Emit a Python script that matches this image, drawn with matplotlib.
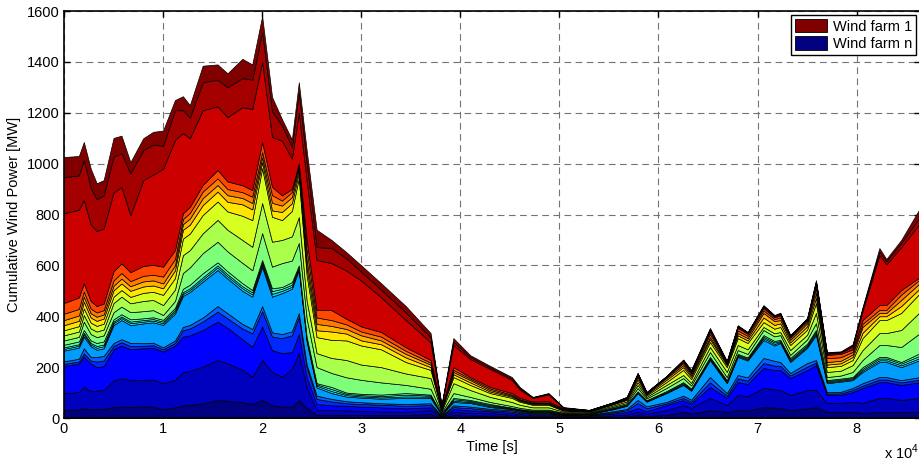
import matplotlib
matplotlib.use("Agg")
import matplotlib.pyplot as plt
import numpy as np
from matplotlib.patches import Patch

plt.rcParams["font.family"] = ["Liberation Sans", "DejaVu Sans"]
plt.rcParams["mathtext.fontset"] = "custom"
plt.rcParams["mathtext.rm"] = "Liberation Sans"

# Sample times [s]
time_s = [0, 1500, 2000, 2700, 3300, 4000, 5000, 5800, 6700, 8000,
          9000, 10000, 11200, 12000, 12700, 14000, 15500, 16500, 18000, 19000,
          20000, 21000, 22000, 23000, 23700, 24500, 25500, 27000, 28500, 30000,
          32000, 34500, 37000, 38100, 39300, 41000, 43000, 45200, 46000, 47300,
          48900, 50400, 53000, 55500, 56800, 57900, 58800, 60800, 62500, 63300,
          65200, 66900, 68000, 69000, 70600, 71700, 72300, 73300, 75000, 75900,
          77000, 78400, 79600, 80600, 82300, 83000, 84500, 86400]

# Power per wind farm [MW]; farm 1 sits on top of the stack, farm 19 at the bottom
farm_19 = [32, 34, 39, 34, 35, 36, 43, 45, 44, 45, 45, 35, 42, 50, 52, 58, 71, 68, 62, 55,
           71, 51, 45, 44, 71, 40, 12, 12, 12, 12, 12, 12, 16, 3, 12, 10, 10, 6, 5, 4,
           4, 3, 3, 5, 6, 12, 8, 12, 24, 18, 31, 24, 31, 30, 43, 41, 39, 31, 38, 43,
           24, 24, 24, 20, 24, 24, 24, 24]
farm_18 = [65, 68, 84, 71, 73, 74, 105, 111, 106, 105, 106, 101, 108, 130, 133, 144, 157, 147, 128, 107,
           157, 131, 116, 150, 184, 80, 19, 19, 18, 16, 14, 12, 15, 2, 12, 10, 10, 6, 5, 4,
           4, 3, 3, 6, 8, 12, 9, 19, 27, 22, 48, 27, 59, 56, 75, 72, 71, 59, 72, 67,
           35, 35, 39, 39, 55, 55, 47, 55]
farm_17 = [108, 112, 118, 110, 92, 94, 122, 129, 120, 124, 125, 125, 135, 140, 140, 144, 151, 140, 120, 118,
           132, 85, 94, 65, 75, 40, 24, 19, 18, 17, 16, 14, 11, 2, 11, 10, 7, 8, 6, 5,
           5, 3, 3, 7, 10, 15, 10, 20, 19, 16, 43, 28, 51, 48, 79, 75, 79, 67, 78, 98,
           31, 32, 39, 59, 62, 62, 59, 62]
farm_16 = [8, 8, 13, 11, 22, 22, 13, 13, 13, 10, 10, 9, 10, 25, 27, 33, 39, 37, 42, 53,
           60, 53, 59, 66, 67, 40, 20, 15, 10, 10, 10, 10, 9, 2, 8, 9, 4, 6, 5, 4,
           4, 3, 2, 5, 7, 20, 11, 6, 9, 8, 18, 9, 14, 13, 19, 18, 16, 10, 14, 10,
           6, 6, 8, 9, 10, 10, 10, 10]
farm_15 = [10, 11, 20, 14, 18, 18, 12, 12, 12, 10, 10, 8, 10, 13, 14, 16, 22, 20, 18, 17,
           20, 17, 16, 16, 15, 10, 13, 10, 8, 7, 6, 7, 7, 1, 7, 6, 5, 5, 4, 3,
           3, 2, 2, 4, 5, 12, 8, 6, 9, 8, 21, 10, 14, 13, 20, 19, 15, 10, 14, 10,
           6, 6, 8, 10, 10, 10, 9, 10]
farm_14 = [42, 44, 46, 42, 28, 30, 70, 75, 70, 78, 80, 88, 105, 122, 129, 141, 142, 136, 130, 127,
           154, 140, 161, 167, 170, 90, 32, 23, 18, 18, 18, 24, 21, 4, 13, 14, 7, 4, 4, 3,
           3, 2, 2, 8, 12, 27, 18, 35, 42, 35, 67, 39, 71, 66, 71, 60, 75, 43, 60, 98,
           35, 40, 31, 44, 59, 59, 51, 67]
farm_13 = [7, 7, 8, 7, 8, 8, 8, 8, 8, 7, 7, 7, 8, 8, 8, 9, 10, 9, 10, 9,
           9, 11, 9, 8, 6, 6, 7, 8, 6, 5, 5, 6, 5, 1, 5, 4, 4, 2, 2, 2,
           2, 1, 1, 2, 2, 2, 2, 2, 3, 3, 4, 3, 4, 4, 7, 6, 4, 5, 5, 7,
           4, 4, 4, 6, 7, 7, 7, 8]
farm_12 = [6, 6, 7, 6, 7, 7, 6, 6, 6, 6, 6, 6, 7, 7, 7, 8, 8, 8, 8, 8,
           9, 11, 8, 8, 6, 6, 5, 8, 5, 5, 5, 7, 4, 1, 6, 4, 4, 2, 2, 2,
           2, 1, 1, 2, 2, 2, 2, 2, 4, 3, 4, 4, 4, 4, 6, 6, 4, 5, 5, 7,
           4, 4, 4, 6, 7, 7, 7, 9]
farm_11 = [10, 11, 11, 10, 12, 12, 9, 9, 9, 7, 7, 7, 8, 13, 14, 16, 12, 12, 12, 9,
           9, 11, 7, 10, 6, 6, 5, 8, 5, 5, 6, 6, 4, 1, 5, 4, 4, 2, 2, 2,
           2, 1, 1, 2, 2, 3, 2, 4, 4, 3, 4, 5, 4, 4, 6, 6, 4, 6, 6, 6,
           4, 4, 4, 7, 6, 6, 6, 10]
farm_10 = [17, 18, 33, 25, 23, 24, 28, 30, 28, 28, 28, 19, 27, 62, 68, 79, 81, 78, 80, 78,
           106, 85, 94, 85, 88, 72, 63, 55, 60, 55, 48, 32, 23, 5, 19, 12, 8, 6, 5, 4,
           4, 2, 2, 4, 5, 13, 7, 12, 16, 12, 19, 12, 15, 14, 20, 18, 19, 12, 17, 27,
           12, 12, 20, 28, 47, 47, 59, 79]
farm_9 = [20, 21, 26, 22, 22, 23, 36, 39, 35, 40, 40, 39, 45, 70, 68, 78, 86, 85, 90, 92,
          118, 98, 91, 95, 102, 70, 55, 59, 68, 60, 60, 45, 42, 5, 39, 27, 20, 16, 12, 9,
          9, 4, 3, 5, 6, 12, 6, 12, 12, 10, 20, 20, 20, 18, 12, 12, 12, 19, 18, 40,
          20, 19, 27, 39, 47, 47, 67, 83]
farm_8 = [20, 21, 26, 23, 22, 23, 25, 26, 25, 32, 32, 40, 45, 65, 65, 72, 72, 72, 95, 105,
          137, 98, 78, 100, 153, 100, 63, 71, 77, 75, 70, 45, 32, 5, 24, 20, 15, 16, 12, 10,
          10, 4, 3, 5, 6, 11, 6, 11, 20, 15, 20, 19, 27, 25, 19, 18, 20, 20, 20, 39,
          19, 19, 20, 47, 51, 51, 67, 74]
farm_7 = [20, 21, 26, 20, 20, 20, 25, 26, 24, 25, 25, 26, 30, 35, 35, 39, 39, 38, 45, 42,
          24, 25, 32, 30, 22, 30, 27, 33, 27, 20, 20, 18, 11, 3, 11, 10, 6, 5, 4, 3,
          3, 2, 1, 2, 3, 11, 4, 9, 11, 9, 11, 8, 11, 10, 18, 15, 14, 10, 13, 20,
          10, 10, 12, 21, 15, 15, 27, 19]
farm_6 = [20, 21, 20, 17, 16, 16, 18, 19, 18, 20, 20, 19, 20, 22, 24, 27, 26, 26, 25, 25,
          19, 30, 25, 24, 15, 30, 25, 22, 18, 20, 15, 14, 10, 2, 9, 9, 6, 4, 3, 3,
          3, 2, 1, 2, 3, 9, 3, 7, 8, 7, 8, 5, 9, 9, 18, 15, 13, 10, 12, 19,
          10, 10, 10, 23, 13, 13, 24, 21]
farm_5 = [25, 26, 20, 18, 17, 17, 21, 22, 20, 22, 22, 27, 25, 20, 22, 26, 26, 24, 23, 25,
          20, 30, 20, 20, 12, 40, 25, 23, 18, 15, 15, 12, 8, 2, 8, 6, 6, 4, 3, 3,
          3, 2, 1, 1, 2, 6, 2, 4, 8, 6, 12, 3, 10, 9, 10, 8, 10, 8, 8, 19,
          15, 14, 10, 12, 12, 12, 21, 14]
farm_4 = [42, 45, 32, 30, 25, 26, 36, 38, 35, 39, 39, 39, 35, 23, 24, 26, 33, 30, 27, 26,
          40, 33, 20, 12, 10, 40, 29, 39, 22, 20, 18, 14, 10, 2, 11, 6, 6, 6, 5, 4,
          5, 2, 1, 1, 2, 4, 2, 2, 6, 5, 10, 3, 10, 8, 9, 7, 8, 5, 6, 15,
          13, 13, 10, 15, 19, 19, 18, 9]
farm_3 = [353, 345, 328, 300, 295, 295, 310, 300, 224, 337, 355, 385, 433, 315, 270, 294, 250, 253, 307, 319,
          315, 196, 215, 120, 198, 230, 197, 185, 190, 180, 137, 107, 70, 5, 87, 71, 71, 52, 33, 14,
          27, 3, 1, 1, 1, 3, 1, 1, 4, 4, 6, 2, 5, 4, 5, 4, 5, 3, 3, 8,
          5, 5, 10, 35, 197, 160, 169, 212]
farm_2 = [142, 135, 157, 145, 125, 130, 140, 133, 165, 118, 118, 90, 117, 90, 80, 110, 105, 117, 114, 115,
          117, 100, 60, 45, 80, 70, 51, 59, 48, 35, 30, 30, 20, 3, 13, 8, 6, 6, 5, 2,
          3, 1, 0.5, 0.5, 0.5, 2, 0.5, 0.5, 2, 2, 4, 2, 3, 2, 4, 3, 3, 2, 2, 5,
          3, 3, 6, 10, 14, 12, 16, 24]
farm_1 = [79, 76, 71, 75, 63, 60, 74, 69, 44, 47, 50, 60, 40, 55, 50, 65, 60, 55, 76, 60,
          63, 57, 25, 30, 40, 50, 68, 32, 24, 25, 25, 25, 16, 2, 14, 7, 6, 5, 5, 2,
          2, 2, 0.5, 0.5, 0.5, 1, 0.5, 0.5, 2, 3, 4, 2, 3, 1, 3, 2, 3, 1, 2, 4,
          3, 2, 4, 6, 13, 9, 12, 35]

layers = [farm_19, farm_18, farm_17, farm_16, farm_15, farm_14, farm_13, farm_12,
          farm_11, farm_10, farm_9, farm_8, farm_7, farm_6, farm_5, farm_4,
          farm_3, farm_2, farm_1]

x_ticks = [0, 10000, 20000, 30000, 40000, 50000, 60000, 70000, 80000]
x_tick_labels = ["0", "1", "2", "3", "4", "5", "6", "7", "8"]
y_ticks = [0, 200, 400, 600, 800, 1000, 1200, 1400, 1600]

# jet colours, with the three top farms pushed into the dark red end
cpos = list(np.linspace(0, 15 / 18, 16)) + [0.93, 0.965, 1.0]
colors = plt.cm.jet(cpos)

fig = plt.figure(figsize=(9.2, 4.61), dpi=100)
ax = fig.add_axes([64 / 920, 43 / 461, 856 / 920, 407 / 461])

ax.stackplot(time_s, layers, colors=colors, edgecolor="k", linewidth=0.5)

ax.set_xlim(0, 86400)
ax.set_ylim(0, 1600)
ax.set_xticks(x_ticks)
ax.set_xticklabels(x_tick_labels)
ax.set_yticks(y_ticks)

ax.grid(True, linestyle=(0, (6, 4)), color="0.45", linewidth=0.8)
ax.set_axisbelow(True)
ax.tick_params(direction="in", top=True, right=True, length=4, width=1,
               labelsize=10.5, pad=3)
for sp in ax.spines.values():
    sp.set_linewidth(1.2)

ax.set_xlabel("Time [s]", fontsize=10.5, labelpad=3)
ax.set_ylabel("Cumulative Wind Power [MW]", fontsize=10.5, labelpad=4)
fig.text(884 / 920, 9 / 461, r"x 10$^{4}$", fontsize=10.5, va="center", ha="left")

handles = [Patch(facecolor=colors[-1], edgecolor="k", linewidth=0.6, label="Wind farm 1"),
           Patch(facecolor=colors[0], edgecolor="k", linewidth=0.6, label="Wind farm n")]
leg = ax.legend(handles=handles, loc="upper right", fontsize=10.5, fancybox=False,
                edgecolor="k", framealpha=1, borderaxespad=0.3, handlelength=2.2,
                handleheight=1.0, handletextpad=0.4, labelspacing=0.2, borderpad=0.25)
leg.get_frame().set_linewidth(1.0)

fig.savefig("out.png", dpi=100)
